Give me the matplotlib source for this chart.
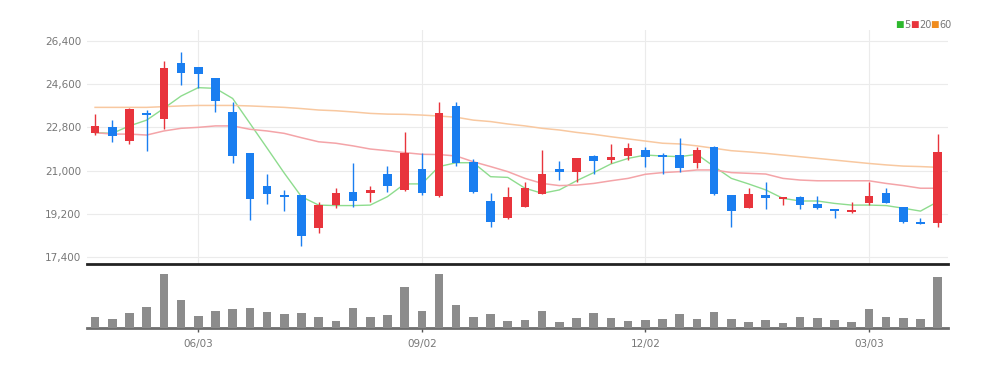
import numpy as np
import matplotlib
matplotlib.use("Agg")
from matplotlib import pyplot as plt

# weekly candles, index 0..49
opens = [22550, 22800, 22220, 23410, 23130, 25460, 25290, 24860, 23440, 21720,
         20380, 19990, 19980, 18600, 19560, 20100, 20070, 20860, 20200, 21080,
         19950, 23700, 21370, 19740, 19050, 19500, 20030, 21060, 20960, 21610,
         21440, 21610, 21860, 21650, 21650, 21300, 21970, 19990, 19440, 19990,
         19810, 19890, 19620, 19420, 19280, 19670, 20090, 19480, 18880, 18840]
closes = [22860, 22440, 23580, 23300, 25250, 25070, 25000, 23910, 21610, 19820,
          20030, 19890, 18290, 19560, 20090, 19750, 20180, 20380, 21750, 20070,
          23410, 21300, 20130, 18880, 19920, 20290, 20860, 20940, 21510, 21420,
          21580, 21930, 21580, 21580, 21100, 21860, 20020, 19320, 20020, 19850,
          19890, 19560, 19440, 19320, 19370, 19960, 19670, 18870, 18780, 21790]
highs = [23350, 23100, 23600, 23520, 25570, 25920, 25290, 24860, 23850, 21720,
         20860, 20200, 19980, 19710, 20270, 21300, 20380, 21210, 22590, 21750,
         23870, 23870, 21470, 20090, 20310, 20520, 21860, 21420, 21510, 21650,
         22110, 22160, 22000, 21750, 22340, 22000, 22030, 19990, 20270, 20520,
         19890, 19950, 19950, 19420, 19710, 20520, 20270, 19480, 19050, 22520]
lows = [22480, 22200, 22090, 21830, 22720, 24560, 24420, 23450, 21300, 18950,
        19610, 19340, 17870, 18400, 19430, 19480, 19710, 20130, 20150, 20000,
        19920, 21190, 20060, 18670, 18990, 19500, 20030, 20610, 20540, 20860,
        21300, 21440, 21140, 20860, 20960, 21100, 19990, 18650, 19430, 19410,
        19570, 19390, 19390, 19020, 19250, 19570, 19670, 18840, 18780, 18650]
volumes = [32, 28, 44, 62, 163, 84, 37, 52, 57, 59,
           48, 42, 44, 32, 21, 59, 34, 40, 124, 52,
           163, 69, 34, 42, 22, 24, 50, 19, 29, 44,
           29, 22, 24, 28, 43, 27, 49, 27, 19, 23,
           14, 33, 29, 24, 18, 56, 33, 29, 27, 154]

ma5 = [22580, 22550, 22860, 23100, 23590, 24100, 24450, 24420, 24000, 22970,
       21940, 20900, 19920, 19570, 19550, 19550, 19570, 19920, 20450, 20450,
       21170, 21330, 21330, 20750, 20720, 20270, 20060, 20200, 20580, 20920,
       21280, 21510, 21650, 21610, 21580, 21680, 21170, 20680, 20450, 20200,
       19850, 19740, 19740, 19640, 19570, 19570, 19550, 19440, 19320, 19710]
ma20 = [22580, 22520, 22520, 22480, 22650, 22760, 22800, 22860, 22860, 22720,
        22650, 22550, 22370, 22200, 22140, 22030, 21900, 21830, 21750, 21680,
        21670, 21610, 21370, 21170, 20960, 20680, 20470, 20380, 20400, 20470,
        20580, 20680, 20850, 20920, 20960, 21030, 21030, 20920, 20890, 20860,
        20680, 20610, 20580, 20580, 20580, 20580, 20470, 20380, 20270, 20270]
ma60 = [23630, 23630, 23630, 23630, 23660, 23690, 23710, 23710, 23710, 23690,
        23660, 23630, 23580, 23520, 23490, 23440, 23380, 23350, 23340, 23310,
        23270, 23220, 23100, 23040, 22940, 22860, 22760, 22690, 22590, 22510,
        22410, 22320, 22230, 22140, 22110, 22030, 21930, 21830, 21780, 21720,
        21650, 21580, 21510, 21440, 21370, 21300, 21240, 21190, 21170, 21140]

tick_pos = [6, 19, 32, 45]
tick_labels = ['06/03', '09/02', '12/02', '03/03']
price_ticks = [17400, 19200, 21000, 22800, 24600, 26400]
legend_items = ['5', '20', '60']
legend_colors = ['#2db82d', '#e8343c', '#f08c1e']

UP = '#e8343c'
DOWN = '#1a7ef0'
plt.rcParams['font.family'] = ['Liberation Sans Narrow', 'DejaVu Sans']

fig = plt.figure(figsize=(10.07, 3.67), dpi=100)
W, H = 1007, 367
ax = fig.add_axes([87 / W, (H - 264) / H, 861 / W, 234 / H])
axv = fig.add_axes([87 / W, (H - 328) / H, 861 / W, 64 / H])

x = np.arange(len(opens))
o = np.array(opens); c = np.array(closes)
colors = [UP if cc >= oo else DOWN for oo, cc in zip(o, c)]

ax.vlines(x, lows, highs, colors=colors, linewidth=1.0, zorder=3)
bottoms = np.minimum(o, c)
heights = np.maximum(np.abs(c - o), 40)
ax.bar(x, heights, bottom=bottoms, width=0.5, color=colors, zorder=4)

ax.plot(x, ma5, color='#8edc8e', linewidth=1.0, zorder=2)
ax.plot(x, ma20, color='#f4a4a8', linewidth=1.1, zorder=2)
ax.plot(x, ma60, color='#f8c8a0', linewidth=1.1, zorder=2)

ax.set_xlim(-0.47, 49.6)
ax.set_ylim(17122, 26845)
ax.set_yticks(price_ticks)
ax.set_yticklabels([f'{v:,}' for v in price_ticks], fontsize=7.5, color='#777777')
ax.set_xticks(tick_pos)
ax.set_xticklabels([])
ax.tick_params(axis='both', length=0, pad=4)
ax.grid(True, color='#ebebeb', linewidth=0.8, zorder=0)
for s in ax.spines.values():
    s.set_visible(False)

# legend (top right)
sq_px = [895, 910, 930]
for px, lab, col in zip(sq_px, legend_items, legend_colors):
    fig.text(px / W, 1 - 25 / H, '\u25a0', color=col, fontsize=6.5, va='center', ha='left',
             family=['DejaVu Sans'])
    fig.text((px + 9) / W, 1 - 25 / H, lab, color='#777777', fontsize=7, va='center', ha='left')

# volume
axv.bar(x, volumes, width=0.5, color='#8c8c8c', zorder=3)
axv.set_xlim(-0.47, 49.6)
axv.set_ylim(0, 192)
axv.set_yticks([])
axv.set_xticks(tick_pos)
axv.set_xticklabels(tick_labels, fontsize=7.5, color='#777777')
axv.tick_params(axis='x', length=3, width=1, color='#555555', pad=5)
for s in ['left', 'right']:
    axv.spines[s].set_visible(False)
axv.spines['top'].set_color('#222222')
axv.spines['top'].set_linewidth(2)
axv.spines['bottom'].set_color('#6e6e6e')
axv.spines['bottom'].set_linewidth(2)

fig.savefig('out.png', dpi=100)
